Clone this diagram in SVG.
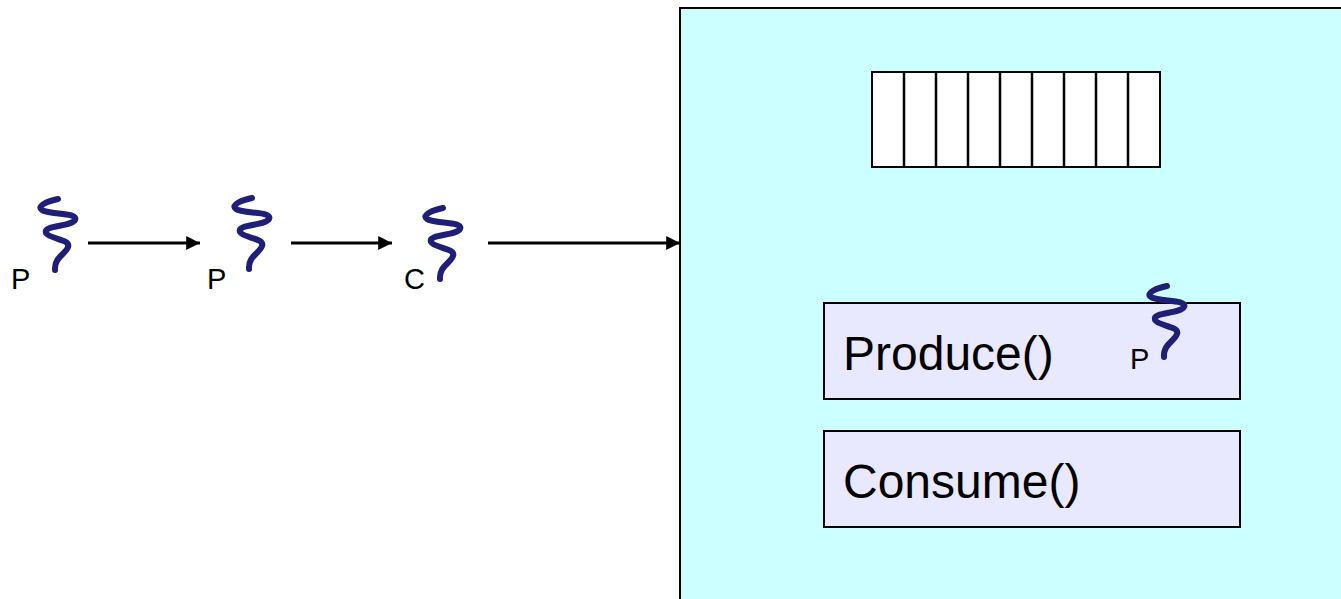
<svg xmlns="http://www.w3.org/2000/svg" width="1341" height="599" viewBox="0 0 1341 599">
<style>
.lbl{font-family:"Liberation Sans",Arial,sans-serif;fill:#000}
.small{font-size:29px}
.big{font-size:48px}
.thr{fill:none;stroke:#1F1F78;stroke-width:6;stroke-linecap:round;stroke-linejoin:round}
.conn{stroke:#000;stroke-width:3;fill:none}
.box{stroke:#000;stroke-width:2}
</style>
<defs>
<marker id="ah" viewBox="0 0 10 10" refX="10" refY="5" markerWidth="5" markerHeight="4.6" markerUnits="strokeWidth" orient="auto">
<path d="M0,0 L10,5 L0,10 Z" fill="#000"/>
</marker>
<path id="sq" d="M0,0 C-10,2 -22,7 -16,11 C-9,16 21,13 17,21 C13,28 -15,26 -12,34 C-9,40 13,40 10,48 C8,55 -4,58 -3,71"/>
</defs>
<rect width="1341" height="599" fill="#fff"/>
<g id="monitor">
<rect x="680" y="8" width="680" height="610" fill="#CCFFFF" class="box"/>
</g>
<g id="buffer">
<rect x="872" y="72" width="288" height="95" fill="#fff" class="box" stroke-width="2.5"/>
<g stroke="#000" stroke-width="2.5">
<line x1="904" y1="72" x2="904" y2="167"/>
<line x1="936" y1="72" x2="936" y2="167"/>
<line x1="968" y1="72" x2="968" y2="167"/>
<line x1="1000" y1="72" x2="1000" y2="167"/>
<line x1="1032" y1="72" x2="1032" y2="167"/>
<line x1="1064" y1="72" x2="1064" y2="167"/>
<line x1="1096" y1="72" x2="1096" y2="167"/>
<line x1="1128" y1="72" x2="1128" y2="167"/>
</g>
</g>
<g id="produce">
<rect x="824" y="303" width="416" height="96" fill="#E8E8FF" class="box"/>
<text class="lbl big" x="843" y="370">Produce()</text>
<text class="lbl small" x="1130" y="369">P</text>
<use href="#sq" x="1167" y="286" class="thr"/>
</g>
<g id="consume">
<rect x="824" y="431" width="416" height="96" fill="#E8E8FF" class="box"/>
<text class="lbl big" x="843" y="498">Consume()</text>
</g>
<g id="t1">
<text class="lbl small" x="11" y="289">P</text>
<use href="#sq" x="58" y="199" class="thr"/>
</g>
<g id="t2">
<text class="lbl small" x="207" y="289">P</text>
<use href="#sq" x="252" y="198" class="thr"/>
</g>
<g id="t3">
<text class="lbl small" x="404" y="289">C</text>
<use href="#sq" x="443" y="208" class="thr"/>
</g>
<g id="connectors">
<line x1="88" y1="243" x2="200" y2="243" class="conn" marker-end="url(#ah)"/>
<line x1="291" y1="243" x2="392" y2="243" class="conn" marker-end="url(#ah)"/>
<line x1="488" y1="243" x2="680" y2="243" class="conn" marker-end="url(#ah)"/>
</g>
</svg>
